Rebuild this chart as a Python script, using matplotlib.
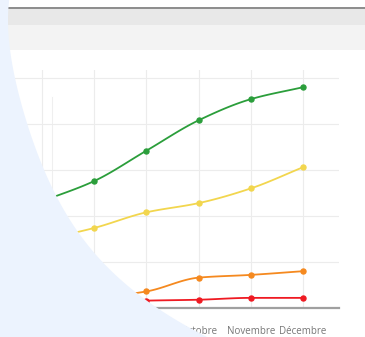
import numpy as np
import matplotlib
matplotlib.use("Agg")
import matplotlib.pyplot as plt
from matplotlib.patches import Rectangle, Polygon

# ---- data ----
months = ["Juillet", "Août", "Septembre", "Octobre", "Novembre", "Décembre"]
green = [116, 138, 171, 204, 227, 240]
yellow = [74, 87, 104, 114, 130, 153]
orange = [6, 11, 18, 33, 36, 40]
red = [5, 6, 8, 9, 11, 11]
grid_values = [50, 100, 150, 200, 250]

series = [
    (green, "#2b9e3b"),
    (yellow, "#f2d64e"),
    (orange, "#f5891f"),
    (red, "#ef1a22"),
]

W, H = 365, 337
plt.rcParams['font.family'] = ['Open Sans', 'DejaVu Sans']
fig = plt.figure(figsize=(W / 100, H / 100), dpi=100)
fig.patch.set_facecolor('white')


def fig_rect(x0, y0, x1, y1, color, z):
    """rectangle given in pixel units measured from the top-left corner"""
    fig.add_artist(Rectangle((x0 / W, 1 - y1 / H), (x1 - x0) / W, (y1 - y0) / H,
                             transform=fig.transFigure, facecolor=color,
                             edgecolor='none', zorder=z))


# page chrome above the chart
fig_rect(0, 7, W, 8.8, "#8e8e8e", 1)
fig_rect(0, 8.8, W, 25, "#e8e8e8", 1)
fig_rect(0, 25, W, 50, "#f3f3f3", 1)

# ---- chart ----
left_px, right_px, top_px, bottom_px = 0, 339, 70, 308
ax = fig.add_axes([left_px / W, 1 - bottom_px / H,
                   (right_px - left_px) / W, (bottom_px - top_px) / H])
step_px = 52.2
first_px = 42
ax.set_xlim((left_px - first_px) / step_px, (right_px - first_px) / step_px)
ax.set_ylim(0, (bottom_px - top_px) / 46 * 50)

idx = np.arange(len(months))


def smooth(xv, yv, n=24):
    xv = np.asarray(xv, float)
    yv = np.asarray(yv, float)
    h = np.diff(xv)
    d = np.diff(yv) / h
    m = np.zeros_like(yv)
    for k in range(1, len(yv) - 1):
        if d[k - 1] * d[k] > 0:
            w1 = 2 * h[k] + h[k - 1]
            w2 = h[k] + 2 * h[k - 1]
            m[k] = (w1 + w2) / (w1 / d[k - 1] + w2 / d[k])
    m[0] = d[0]
    m[-1] = d[-1]
    xs, ys = [], []
    for k in range(len(xv) - 1):
        t = np.linspace(0, 1, n, endpoint=False)
        h00 = 2 * t**3 - 3 * t**2 + 1
        h10 = t**3 - 2 * t**2 + t
        h01 = -2 * t**3 + 3 * t**2
        h11 = t**3 - t**2
        xs.append(xv[k] + t * h[k])
        ys.append(h00 * yv[k] + h10 * h[k] * m[k] + h01 * yv[k + 1] + h11 * h[k] * m[k + 1])
    xs.append([xv[-1]])
    ys.append([yv[-1]])
    return np.concatenate(xs), np.concatenate(ys)


for vals, col in series:
    sx, sy = smooth(idx, vals)
    ax.plot(sx, sy, color=col, lw=1.3, solid_capstyle='round', zorder=3)
    ax.plot(idx, vals, 'o', ms=3.6, color=col, mec=col, zorder=4)

ax.set_xticks(idx)
ax.set_xticklabels(months)
ax.set_yticks(grid_values)
ax.tick_params(axis='y', length=0, labelleft=False)
ax.tick_params(axis='x', length=0, labelsize=7, labelcolor='#777777', pad=13)
ax.grid(True, color='#ececec', lw=0.8, zorder=0)
ax.axvline((52 - first_px) / step_px, ymin=0, ymax=(bottom_px - 97) / (bottom_px - top_px),
           color='#efefef', lw=0.8, zorder=0)
for s in ['top', 'right', 'left']:
    ax.spines[s].set_visible(False)
ax.spines['bottom'].set_color('#a0a0a0')
ax.spines['bottom'].set_linewidth(1.6)
ax.set_facecolor('none')

# ---- light-blue overlay shape on the left (smooth curved edge) ----
by = np.array([0, 50, 100, 133, 200, 220, 253, 273, 291, 301, 312, 322, 331, 337])
bx = np.array([9, 11, 19, 30, 60, 72, 90, 112, 137, 148, 163, 180, 196, 206])
coef = np.polyfit(by, bx, 4)
yy = np.linspace(-5, 342, 400)
xx = np.polyval(coef, yy)
pts = [(-5, -5)] + list(zip(xx, yy)) + [(-5, 342)]
pts = [(px / W, 1 - py / H) for px, py in pts]
fig.add_artist(Polygon(pts, closed=True, transform=fig.transFigure,
                       facecolor='#ecf3fe', edgecolor='none', zorder=20))

fig.savefig("out.png", dpi=100, facecolor='white')
